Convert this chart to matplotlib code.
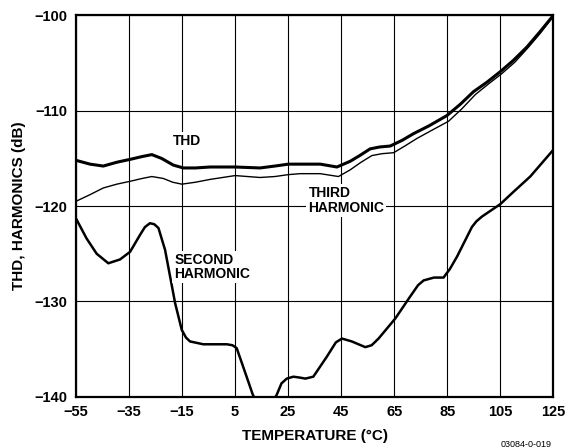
#!/usr/bin/env python

import matplotlib
matplotlib.use("Agg")
import matplotlib.pyplot as plt


# values
thd_temp = [-55, -49.7, -44.7, -39.6, -34.6, -30.0, -26.4, -22.7, -18.3, -14.5,
            -10.0, -4.4, 5, 14.4, 20.0, 25.1, 29.5, 37.1, 43.4, 48.4, 52.0, 55.9,
            59.5, 63.5, 68.0, 72.3, 78.0, 84.9, 90.0, 94.9, 100.0, 105, 110.0,
            115.1, 120.0, 125]
thd_db = [-115.2, -115.6, -115.8, -115.4, -115.1, -114.8, -114.6, -115.0, -115.7,
          -116.0, -116.0, -115.9, -115.9, -116.0, -115.8, -115.6, -115.6, -115.6,
          -115.9, -115.3, -114.7, -114.0, -113.8, -113.7, -113.1, -112.4, -111.6,
          -110.5, -109.3, -108.0, -107.0, -105.9, -104.7, -103.3, -101.7, -100.0]

third_temp = [-55, -49.7, -44.7, -39.6, -34.6, -30.0, -26.4, -22.1, -18.5, -15.1,
              -10.0, -4.4, 5, 14.4, 20.0, 25.1, 29.5, 37.1, 44.0, 48.4, 52.5, 56.6,
              60.5, 64.8, 69.0, 73.6, 79.5, 85.5, 90.5, 95.6, 100.5, 105.6, 110.5,
              115.1, 120.0, 125]
third_db = [-119.5, -118.8, -118.1, -117.7, -117.4, -117.1, -116.9, -117.1, -117.5,
            -117.7, -117.5, -117.2, -116.8, -117.0, -116.9, -116.7, -116.6, -116.6,
            -116.9, -116.2, -115.4, -114.7, -114.5, -114.4, -113.7, -112.9, -112.0,
            -111.1, -109.8, -108.3, -107.2, -106.1, -104.9, -103.5, -101.9, -100.1]

second_temp = [-55, -51.0, -47.2, -42.8, -38.4, -34.6, -30.8, -29.0, -27.1, -25.5,
               -23.9, -21.4, -19.5, -17.6, -15.1, -13.5, -12.0, -7.0, 1.9, 4.0, 5.6,
               8.1, 11.7, 16.0, 20.7, 22.5, 24.5, 27.0, 29.5, 31.5, 34.5, 39.6,
               43.0, 45.3, 49.0, 54.1, 56.5, 59.1, 65.4, 71.0, 74.0, 76.1, 80.0,
               83.6, 86.0, 88.7, 94.3, 96.0, 98.1, 105.0, 110.0, 116.3, 125]
second_db = [-121.3, -123.4, -125.0, -126.0, -125.6, -124.8, -123.0, -122.2,
             -121.8, -121.9, -122.3, -124.6, -127.4, -130.2, -133.0, -133.8,
             -134.2, -134.5, -134.5, -134.6, -134.9, -136.9, -139.8, -142.0,
             -139.8, -138.6, -138.1, -137.9, -138.0, -138.1, -137.9, -135.8,
             -134.3, -133.9, -134.2, -134.8, -134.6, -133.9, -131.8, -129.5,
             -128.3, -127.8, -127.5, -127.5, -126.6, -125.3, -122.2, -121.6,
             -121.1, -119.8, -118.5, -116.9, -114.1]

x_ticks = list(range(-55, 126, 20))
y_ticks = list(range(-140, -99, 10))

FONT = "Liberation Sans"
LABEL_BOX = {"fc": "white", "ec": "none", "pad": 1.5}


def main():
    plt.rcParams["font.family"] = [FONT, "DejaVu Sans"]
    plt.rcParams["lines.solid_joinstyle"] = "round"
    plt.rcParams["lines.solid_capstyle"] = "round"
    fig = plt.figure(figsize=(5.7, 4.48), dpi=100, facecolor="white")
    ax = fig.add_axes([0.1333, 0.1145, 0.8374, 0.851])

    ax.plot(thd_temp, thd_db, color="black", lw=2.2, zorder=3)
    ax.plot(third_temp, third_db, color="black", lw=1.0, zorder=3)
    ax.plot(second_temp, second_db, color="black", lw=1.8, zorder=3)

    ax.set_xlim(-55, 125)
    ax.set_ylim(-140, -100)
    ax.set_xticks(x_ticks)
    ax.set_yticks(y_ticks)
    ax.grid(True, color="black", lw=0.8)
    ax.set_axisbelow(True)
    ax.tick_params(length=0, labelsize=10.5, pad=6)
    for lab in ax.get_xticklabels() + ax.get_yticklabels():
        lab.set_fontweight("bold")
    for sp in ax.spines.values():
        sp.set_linewidth(1.6)

    ax.set_xlabel("TEMPERATURE (°C)", fontsize=11, fontweight="bold", labelpad=7)
    ax.set_ylabel("THD, HARMONICS (dB)", fontsize=11, fontweight="bold", labelpad=6)

    ax.text(-13.1, -113.2, "THD", fontsize=10, fontweight="bold",
            ha="center", va="center", bbox=LABEL_BOX, zorder=4)
    ax.text(32.7, -119.4, "THIRD\nHARMONIC", fontsize=10, fontweight="bold",
            ha="left", va="center", linespacing=1.05, bbox=LABEL_BOX, zorder=4)
    ax.text(-18.0, -126.4, "SECOND\nHARMONIC", fontsize=10, fontweight="bold",
            ha="left", va="center", linespacing=1.05, bbox=LABEL_BOX, zorder=4)

    fig.text(552 / 570, 4 / 448, "03084-0-019", fontsize=6.5,
             ha="right", va="center")

    fig.savefig("out.png", dpi=100)


if __name__ == "__main__":
    main()
